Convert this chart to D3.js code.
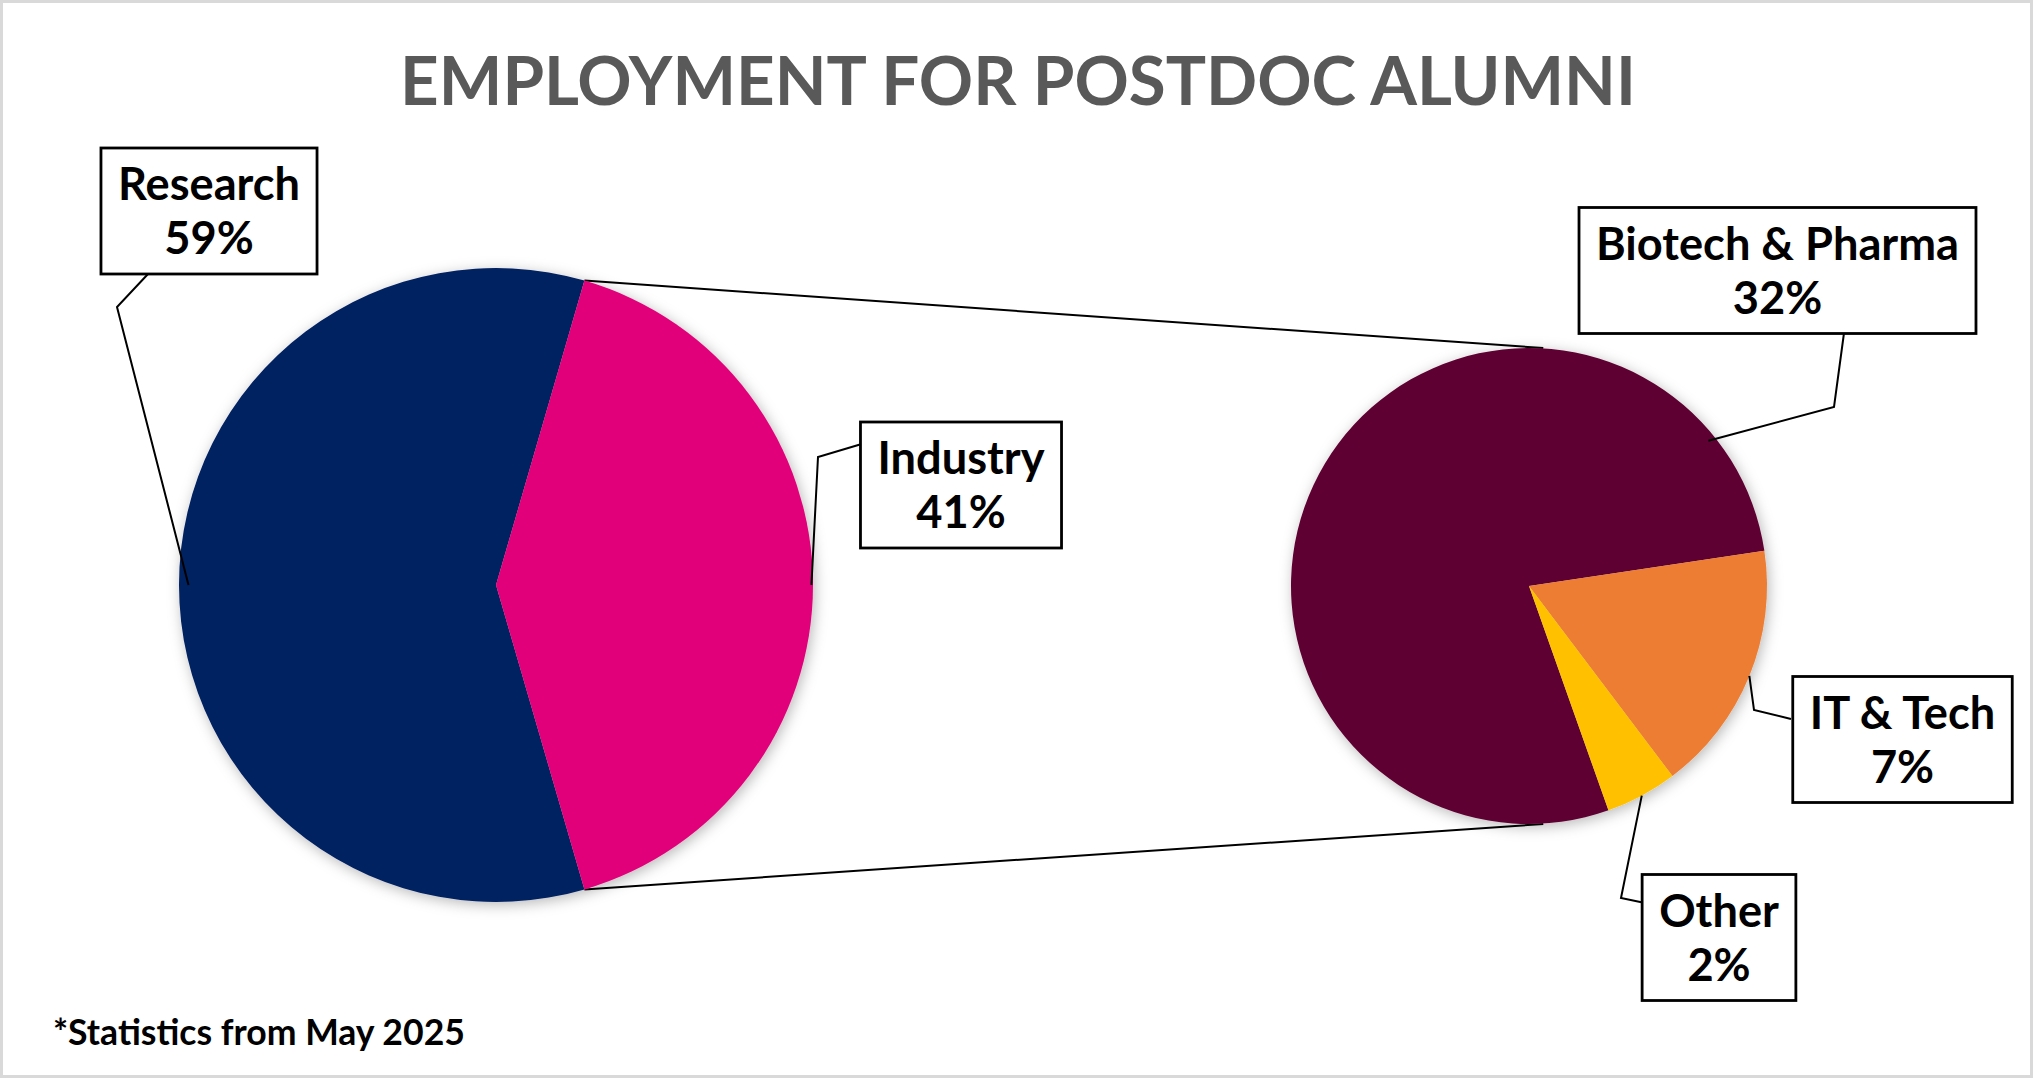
<!DOCTYPE html>
<html><head><meta charset="utf-8">
<script src="https://cdn.jsdelivr.net/npm/d3@7"></script>
<style>body{margin:0;background:#fff}svg{display:block}</style>
</head><body>
<svg id="chart" width="2033" height="1078"></svg>
<script>
// ---- data ----
const primaryCategories = ["Research", "Industry"];
const primaryValues = [59, 41];
const secondaryCategories = ["Biotech & Pharma", "IT & Tech", "Other"];
const secondaryValues = [32, 7, 2];
const titleText = "EMPLOYMENT FOR POSTDOC ALUMNI";
const footnoteText = "*Statistics from May 2025";

// ---- style ----
const primaryColors = ["#002060", "#E2007A"];
const secondaryColors = ["#5E0032", "#ED7D31", "#FFC000"];
const FONT = "Lato, 'Open Sans', sans-serif";

const W = 2033, H = 1078;
const svg = d3.select("#chart");
const deg = Math.PI / 180;

function measure(txt, size, weight) {
  const t = svg.append("text").attr("font-family", FONT).attr("font-weight", weight)
    .attr("font-size", size).text(txt);
  const w = t.node().getComputedTextLength();
  t.remove();
  return w;
}

const defs = svg.append("defs");
const f = defs.append("filter").attr("id", "shadow").attr("x", "-20%").attr("y", "-20%")
  .attr("width", "140%").attr("height", "140%");
f.append("feDropShadow").attr("dx", 2).attr("dy", 3).attr("stdDeviation", 7)
  .attr("flood-color", "#000").attr("flood-opacity", 0.28);

// border
svg.append("rect").attr("x", 1.5).attr("y", 1.5).attr("width", W - 3).attr("height", H - 3)
  .attr("fill", "#fff").attr("stroke", "#d9d9d9").attr("stroke-width", 3);

// title
const titleSize = 100 * 1236 / measure(titleText, 100, 700);
svg.append("text").attr("x", 1018).attr("y", 105).attr("text-anchor", "middle")
  .attr("font-family", FONT).attr("font-weight", 700).attr("font-size", titleSize)
  .attr("fill", "#595959").text(titleText);

// footnote
const footSize = 100 * 412 / measure(footnoteText, 100, 700);
svg.append("text").attr("x", 53).attr("y", 1045)
  .attr("font-family", FONT).attr("font-weight", 700).attr("font-size", footSize)
  .attr("fill", "#000").text(footnoteText);

// ---- pies ----
const P = { cx: 496, cy: 585, r: 317 };
const S = { cx: 1529, cy: 586, r: 238 };

const pTotal = d3.sum(primaryValues);
const pStart = Math.PI / 2 + (primaryValues[1] / pTotal) * Math.PI;
const pieP = d3.pie().sort(null).startAngle(pStart).endAngle(pStart + 2 * Math.PI);
const arcsP = pieP(primaryValues);

const sStart = 160.5 * deg;
const pieS = d3.pie().sort(null).startAngle(sStart).endAngle(sStart + 2 * Math.PI);
const arcsS = pieS(secondaryValues);

const arcP = d3.arc().innerRadius(0).outerRadius(P.r);
const arcS = d3.arc().innerRadius(0).outerRadius(S.r);

function polar(c, r, a) { return [c.cx + r * Math.sin(a), c.cy - r * Math.cos(a)]; }

// connector lines between the Industry split and the secondary pie
const ind = arcsP[1];
const splitA = polar(P, P.r, ind.startAngle);
const splitB = polar(P, P.r, ind.endAngle);
const tops = splitA[1] < splitB[1] ? [splitA, splitB] : [splitB, splitA];
const line = d3.line();
svg.append("path").attr("d", line([tops[0], [S.cx + 0.06 * S.r, S.cy - S.r]]))
  .attr("fill", "none").attr("stroke", "#000").attr("stroke-width", 2);
svg.append("path").attr("d", line([tops[1], [S.cx + 0.06 * S.r, S.cy + S.r]]))
  .attr("fill", "none").attr("stroke", "#000").attr("stroke-width", 2);

const gP = svg.append("g").attr("transform", `translate(${P.cx},${P.cy})`).attr("filter", "url(#shadow)");
gP.selectAll("path").data(arcsP).join("path").attr("d", arcP)
  .attr("fill", (d, i) => primaryColors[i]);

const gS = svg.append("g").attr("transform", `translate(${S.cx},${S.cy})`).attr("filter", "url(#shadow)");
gS.selectAll("path").data(arcsS).join("path").attr("d", arcS)
  .attr("fill", (d, i) => secondaryColors[i]);

// ---- labels ----
const labelSize = 100 * 363 / measure(secondaryCategories[0], 100, 700);
const mid = d => (d.startAngle + d.endAngle) / 2;

const labels = [
  { name: primaryCategories[0], val: primaryValues[0], c: P, arc: arcsP[0], box: [209, 211], attach: [148, 274], elbow: [117, 307], rf: 0.97 },
  { name: primaryCategories[1], val: primaryValues[1], c: P, arc: arcsP[1], box: [961, 485], attach: [865, 443], elbow: [818, 457], rf: 0.995 },
  { name: secondaryCategories[0], val: secondaryValues[0], c: S, arc: arcsS[0], box: [1777.5, 270.5], attach: [1844, 333], elbow: [1834, 407], angle: 51 * deg, rf: 0.97 },
  { name: secondaryCategories[1], val: secondaryValues[1], c: S, arc: arcsS[1], box: [1902.5, 739.5], attach: [1791, 719], elbow: [1754, 710], rf: 1.0 },
  { name: secondaryCategories[2], val: secondaryValues[2], c: S, arc: arcsS[2], box: [1719, 937.5], attach: [1645, 903], elbow: [1621, 898], rf: 1.0 }
];

labels.forEach(L => {
  const a = L.angle !== undefined ? L.angle : mid(L.arc);
  const end = polar(L.c, L.c.r * L.rf, a);
  svg.append("path").attr("d", line([L.attach, L.elbow, end]))
    .attr("fill", "none").attr("stroke", "#000").attr("stroke-width", 2);
});

labels.forEach(L => {
  const tw = Math.max(measure(L.name, labelSize, 700), measure(L.val + "%", labelSize, 700));
  const bw = tw + 34, bh = 126;
  const [bx, by] = L.box;
  const g = svg.append("g");
  g.append("rect").attr("x", bx - bw / 2).attr("y", by - bh / 2).attr("width", bw).attr("height", bh)
    .attr("fill", "#fff").attr("stroke", "#000").attr("stroke-width", 2.8);
  g.append("text").attr("x", bx).attr("y", by - 11).attr("text-anchor", "middle")
    .attr("font-family", FONT).attr("font-weight", 700).attr("font-size", labelSize)
    .attr("fill", "#000").text(L.name);
  g.append("text").attr("x", bx).attr("y", by + 43).attr("text-anchor", "middle")
    .attr("font-family", FONT).attr("font-weight", 700).attr("font-size", labelSize)
    .attr("fill", "#000").text(L.val + "%");
});
</script>
</body></html>
